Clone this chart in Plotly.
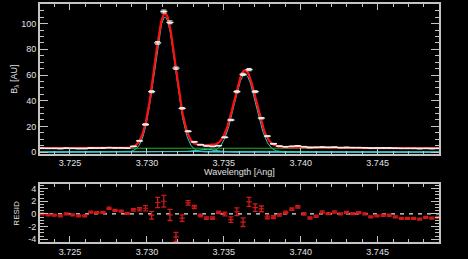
import numpy as np
import plotly.graph_objects as go

# ---------------- data ----------------
wave = [3.72318, 3.72358, 3.72397, 3.72437, 3.72476, 3.72516, 3.72556, 3.72595, 3.72635, 3.72674,
        3.72714, 3.72754, 3.72793, 3.72833, 3.72872, 3.72912, 3.72952, 3.72991, 3.73031, 3.73070,
        3.73110, 3.73150, 3.73189, 3.73229, 3.73268, 3.73308, 3.73348, 3.73387, 3.73427, 3.73466,
        3.73506, 3.73546, 3.73585, 3.73625, 3.73664, 3.73704, 3.73744, 3.73783, 3.73823, 3.73862,
        3.73902, 3.73942, 3.73981, 3.74021, 3.74060, 3.74100, 3.74140, 3.74179, 3.74219, 3.74258,
        3.74298, 3.74338, 3.74377, 3.74417, 3.74456, 3.74496, 3.74536, 3.74575, 3.74615, 3.74654,
        3.74694, 3.74734, 3.74773, 3.74813, 3.74852, 3.74892]

flux = [3.0, 2.9, 2.9, 2.8, 3.0, 2.9, 2.8, 2.8, 3.2, 3.1, 3.2, 3.5, 3.3, 3.3, 3.1,
        4.4, 8.8, 21.5, 47.0, 85.0, 109.4, 101.0, 65.3, 34.1, 16.2, 8.0, 5.8, 4.9, 4.4, 5.0,
        11.5, 25.0, 47.0, 60.5, 64.2, 47.0, 26.4, 12.4, 6.5, 4.6, 4.2, 4.5, 4.8, 4.2,
        3.6, 3.7, 3.9, 3.7, 3.8, 3.5, 3.6, 3.5, 3.5, 3.4, 3.1, 3.2, 3.2, 3.2, 3.0, 2.9,
        2.9, 2.9, 2.8, 2.9, 2.8, 2.9]

flux_err = [0.2, 0.2, 0.2, 0.2, 0.2, 0.2, 0.2, 0.2, 0.2, 0.2, 0.2, 0.2, 0.2, 0.2, 0.2,
            0.24, 0.33, 0.52, 0.75, 1.0, 1.15, 1.1, 0.9, 0.64, 0.45, 0.32, 0.27, 0.25, 0.24, 0.25,
            0.38, 0.55, 0.75, 0.85, 0.9, 0.75, 0.56, 0.39, 0.28, 0.24, 0.23, 0.24, 0.24, 0.23,
            0.21, 0.21, 0.22, 0.21, 0.21, 0.21, 0.21, 0.21, 0.21, 0.2, 0.2, 0.2, 0.2, 0.2,
            0.2, 0.2, 0.2, 0.2, 0.2, 0.2, 0.2, 0.2]

resid = [0.0, -0.15, -0.2, -0.3, 0.0, -0.15, -0.3, -0.3, 0.3, 0.2, 0.25, 0.9, 0.55, 0.45, 0.1,
         0.65, 0.75, 0.9, -0.2, 1.8, 2.0, -0.15,
         -3.6, -0.65, 1.75, 1.1, -0.25, -0.65, -0.65, 0.25, 0.0, -0.9, 0.35, -1.3, 1.9, 1.0,
         0.8, -0.45, -0.5, -0.15, 0.25, 0.75, 1.1, 0.0,
         -0.65, -0.35, 0.3, 0.05, 0.3, 0.0, 0.25, 0.05, 0.2, 0.0, -0.45, -0.3, -0.2, -0.2,
         -0.45, -0.7, -0.7, -0.7, -0.8, -0.55, -0.65, -0.55]

resid_err = [0.15, 0.15, 0.15, 0.15, 0.15, 0.15, 0.15, 0.15, 0.15, 0.15, 0.15, 0.16, 0.15, 0.15, 0.15,
             0.19, 0.26, 0.41, 0.6, 0.81, 0.92, 0.88, 0.71, 0.51, 0.35, 0.25, 0.21, 0.2, 0.19, 0.2,
             0.3, 0.44, 0.6, 0.68, 0.71, 0.6, 0.45, 0.31, 0.22, 0.19, 0.19, 0.19, 0.19, 0.19,
             0.17, 0.17, 0.17, 0.17, 0.17, 0.16, 0.16, 0.16, 0.16, 0.16, 0.16, 0.16, 0.16, 0.16,
             0.15, 0.15, 0.15, 0.15, 0.15, 0.15, 0.15, 0.15]

# fitted model parameters (Gaussian components + flat continuum)
line_center = [3.73118, 3.73638, 3.7338, 3.7395]
line_amp = [105.0, 60.5, 2.3, 0.8]
line_sigma = [0.00069, 0.00071, 0.0007, 0.0022]
continuum = 3.0

x_tick_vals = [3.725, 3.730, 3.735, 3.740, 3.745]
x_tick_text = ["3.725", "3.730", "3.735", "3.740", "3.745"]
r_tick_vals = [4, 2, 0, -2, -4]
r_tick_text = ["4", "2", "0", "-2", "-4"]

# ---------------- figure ----------------
xr = [3.72305, 3.74899]
xm = np.linspace(xr[0], xr[1], 800)
comps = [a * np.exp(-0.5 * ((xm - c) / s) ** 2) for c, a, s in zip(line_center, line_amp, line_sigma)]
total = continuum + np.sum(comps, axis=0)

fig = go.Figure()
for comp in comps:
    fig.add_trace(go.Scatter(x=xm, y=comp, mode="lines", line=dict(color="#3cc8c8", width=1),
                             xaxis="x", yaxis="y", hoverinfo="skip"))
fig.add_trace(go.Scatter(x=[xr[0], xr[1]], y=[continuum, continuum], mode="lines",
                         line=dict(color="#22b022", width=1.2), xaxis="x", yaxis="y"))
fig.add_trace(go.Scatter(x=xm, y=total, mode="lines", line=dict(color="#ff1010", width=2.2),
                         xaxis="x", yaxis="y"))
fig.add_trace(go.Scatter(x=wave, y=flux, mode="markers",
                         marker=dict(symbol="line-ew-open", size=5, color="#f0f0f0",
                                     line=dict(color="#f0f0f0", width=1.3)),
                         error_y=dict(type="data", array=flux_err, color="#f0f0f0", thickness=1, width=2.5),
                         xaxis="x", yaxis="y"))

# residual panel
fig.add_trace(go.Scatter(x=[xr[0], xr[1]], y=[0, 0], mode="lines",
                         line=dict(color="#e8e8e8", width=1.2, dash="4px,5px"), xaxis="x2", yaxis="y2"))
fig.add_trace(go.Scatter(x=wave, y=resid, mode="markers",
                         marker=dict(symbol="line-ew-open", size=4, color="#d01a1a",
                                     line=dict(color="#d01a1a", width=1.2)),
                         error_y=dict(type="data", array=resid_err, color="#d01a1a", thickness=1.3, width=2.5),
                         xaxis="x2", yaxis="y2"))

axcol = "#c4c4c4"
font = dict(family="Liberation Sans, Arial, sans-serif", size=9, color="#e0e0e0")
common_x = dict(range=xr, domain=[40 / 468, 439 / 468], tickmode="array", tickvals=x_tick_vals,
                ticktext=x_tick_text, ticks="inside", ticklen=6, tickwidth=1, tickcolor=axcol,
                minor=dict(dtick=0.001, tick0=3.725, ticks="inside", ticklen=3, tickcolor=axcol),
                showgrid=False, zeroline=False, showline=True, linecolor=axcol, linewidth=2,
                mirror="ticks", tickfont=font)

fig.update_layout(
    width=468, height=259, margin=dict(l=0, r=0, t=0, b=0),
    paper_bgcolor="black", plot_bgcolor="black", showlegend=False,
    xaxis=dict(anchor="y", **common_x),
    xaxis2=dict(anchor="y2", **common_x),
    yaxis=dict(anchor="x", domain=[1 - 156 / 259, 1 - 4 / 259], range=[-1.15, 115.3],
               tickmode="array", tickvals=[0, 20, 40, 60, 80, 100],
               ticks="inside", ticklen=8, tickwidth=1, tickcolor=axcol,
               minor=dict(dtick=5, tick0=0, ticks="inside", ticklen=4, tickcolor=axcol),
               showgrid=False, zeroline=False, showline=True, linecolor=axcol, linewidth=2,
               mirror="ticks", tickfont=font),
    yaxis2=dict(anchor="x2", domain=[1 - 246 / 259, 1 - 187 / 259], range=[-4.45, 4.7],
                tickmode="array", tickvals=r_tick_vals, ticktext=r_tick_text,
                ticks="inside", ticklen=8, tickwidth=1, tickcolor=axcol,
                minor=dict(dtick=0.5, tick0=0, ticks="inside", ticklen=4, tickcolor=axcol),
                showgrid=False, zeroline=False, showline=True, linecolor=axcol, linewidth=2,
                mirror="ticks", tickfont=font),
    annotations=[
        dict(text="Wavelength [Ang]", x=239.5 / 468, y=1 - 175 / 259, xref="paper", yref="paper",
             showarrow=False, xanchor="center", yanchor="middle", font=font),
        dict(text="B<sub>λ</sub> [AU]", x=15 / 468, y=1 - 80 / 259, xref="paper", yref="paper",
             showarrow=False, xanchor="center", yanchor="middle", textangle=-90, font=font),
        dict(text="RESID", x=17 / 468, y=1 - 217 / 259, xref="paper", yref="paper",
             showarrow=False, xanchor="center", yanchor="middle", textangle=-90,
             font=dict(family=font["family"], size=8, color="#e0e0e0")),
    ],
)

fig.write_html("out.html")
